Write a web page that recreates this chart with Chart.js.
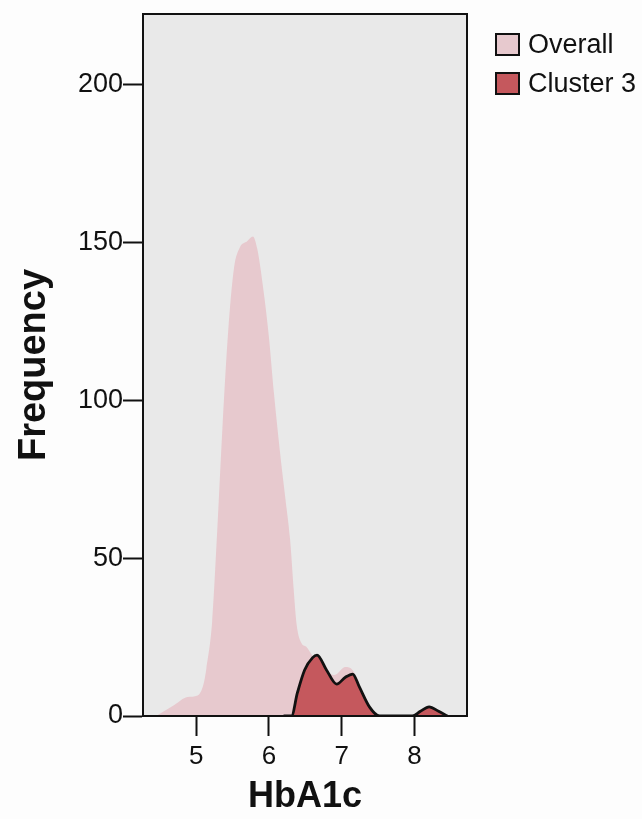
<!DOCTYPE html>
<html>
<head>
<meta charset="utf-8">
<script src="https://cdn.jsdelivr.net/npm/chart.js@4"></script>
<style>
  body { margin: 0; background: #fdfdfd; }
  #wrap { position: relative; width: 642px; height: 819px; }
  #legend { position: absolute; left: 495px; top: 33px; font-family: "Liberation Sans", Arial, sans-serif; font-size: 27px; color: #111; }
  .item { display: flex; align-items: center; height: 23px; margin-bottom: 16px; white-space: nowrap; }
  .box { width: 21px; height: 19px; border: 2px solid #111; margin-right: 8px; }
</style>
</head>
<body>
<div id="wrap">
  <canvas id="myChart" width="642" height="819"></canvas>
  <div id="legend"></div>
</div>
<script>
const xTicks = [5, 6, 7, 8];
const yTicks = [0, 50, 100, 150, 200];

// Overall density curve (HbA1c, frequency)
const overallX = [4.45, 4.7, 4.88, 5.02, 5.1, 5.14, 5.22, 5.29, 5.36, 5.44, 5.52, 5.6, 5.7, 5.78, 5.84, 5.93, 6.0, 6.07, 6.15, 6.22, 6.29, 6.34, 6.38, 6.45, 6.51, 6.6, 6.75, 6.9, 7.05, 7.15, 7.25, 7.38, 7.52, 7.97, 8.08, 8.2, 8.33, 8.45];
const overallY = [0, 3.5, 6, 6.5, 10, 15, 30, 59, 91, 122, 142, 148.5, 150.5, 152, 148, 134, 120, 102, 84, 70, 56, 40, 29, 23, 22, 19, 15, 13, 15.5, 14.5, 9.5, 3, 0, 0, 1.5, 2.9, 1.5, 0];

// Cluster 3 curve
const clusterX = [6.2, 6.31, 6.39, 6.49, 6.6, 6.66, 6.79, 6.93, 7.05, 7.15, 7.24, 7.38, 7.52, 7.97, 8.08, 8.2, 8.33, 8.45];
const clusterY = [0, 0, 7.3, 14.6, 18.5, 19.3, 14.6, 10.1, 12.3, 13.3, 9.3, 2.9, 0, 0, 1.5, 2.9, 1.5, 0];

const font = "'Liberation Sans', Arial, sans-serif";

const boxPlugin = {
	id: 'box',
	beforeDraw(chart) {
		const { ctx, chartArea: a } = chart;
		ctx.save();
		ctx.fillStyle = '#e9e9e9';
		ctx.fillRect(a.left, a.top, a.right - a.left, a.bottom - a.top);
		ctx.restore();
	},
	afterDraw(chart) {
		const { ctx, chartArea: a } = chart;
		ctx.save();
		ctx.strokeStyle = '#111';
		ctx.lineWidth = 2;
		ctx.strokeRect(a.left, a.top, a.right - a.left, a.bottom - a.top);
		ctx.restore();
	}
};

function axisGrid() {
	return {
		display: true,
		drawOnChartArea: false,
		drawTicks: true,
		tickLength: 20,
		tickColor: '#111',
		tickWidth: 2
	};
}

const data = {
	datasets: [
		{
			label: 'Overall',
			data: overallX.map((x, i) => ({ x, y: overallY[i] })),
			backgroundColor: '#e7c9ce',
			borderColor: 'rgba(0,0,0,0)',
			borderWidth: 0,
			fill: 'origin',
			order: 2
		},
		{
			label: 'Cluster 3',
			data: clusterX.map((x, i) => ({ x, y: clusterY[i] })),
			backgroundColor: '#c5585d',
			borderColor: '#111',
			borderWidth: 2.8,
			fill: 'origin',
			order: 1
		}
	]
};

const config = {
	type: 'line',
	data,
	options: {
		responsive: false,
		animation: false,
		elements: { point: { radius: 0 }, line: { cubicInterpolationMode: 'monotone' } },
		layout: { padding: { left: 0, right: 175, top: 14, bottom: 0 } },
		plugins: { legend: { display: false }, tooltip: { enabled: false } },
		scales: {
			x: {
				type: 'linear',
				min: 4.27,
				max: 8.72,
				afterBuildTicks: s => { s.ticks = xTicks.map(v => ({ value: v })); },
				afterFit: s => { s.height = 103; },
				grid: axisGrid(),
				border: { display: true, color: '#111', width: 2 },
				ticks: { color: '#111', padding: 5, maxRotation: 0, font: { family: font, size: 26 } },
				title: { display: true, text: 'HbA1c', color: '#111', padding: { top: 0, bottom: 0 }, font: { family: font, size: 36, weight: 'bold' } }
			},
			y: {
				min: 0,
				max: 222.5,
				afterBuildTicks: s => { s.ticks = yTicks.map(v => ({ value: v })); },
				afterFit: s => { s.width = 143; },
				grid: axisGrid(),
				border: { display: true, color: '#111', width: 2 },
				ticks: { color: '#111', padding: 0, font: { family: font, size: 27, lineHeight: 1 } },
				title: { display: true, text: 'Frequency', color: '#111', padding: { top: 12, bottom: 0 }, font: { family: font, size: 38, weight: 'bold' } }
			}
		}
	},
	plugins: [boxPlugin]
};

const myChart = new Chart(document.getElementById('myChart'), config);

// legend built from the datasets
const legend = document.getElementById('legend');
myChart.data.datasets.forEach(ds => {
	const item = document.createElement('div');
	item.className = 'item';
	item.innerHTML = `<span class="box" style="background:${ds.backgroundColor}"></span><span>${ds.label}</span>`;
	legend.appendChild(item);
});
</script>
</body>
</html>
